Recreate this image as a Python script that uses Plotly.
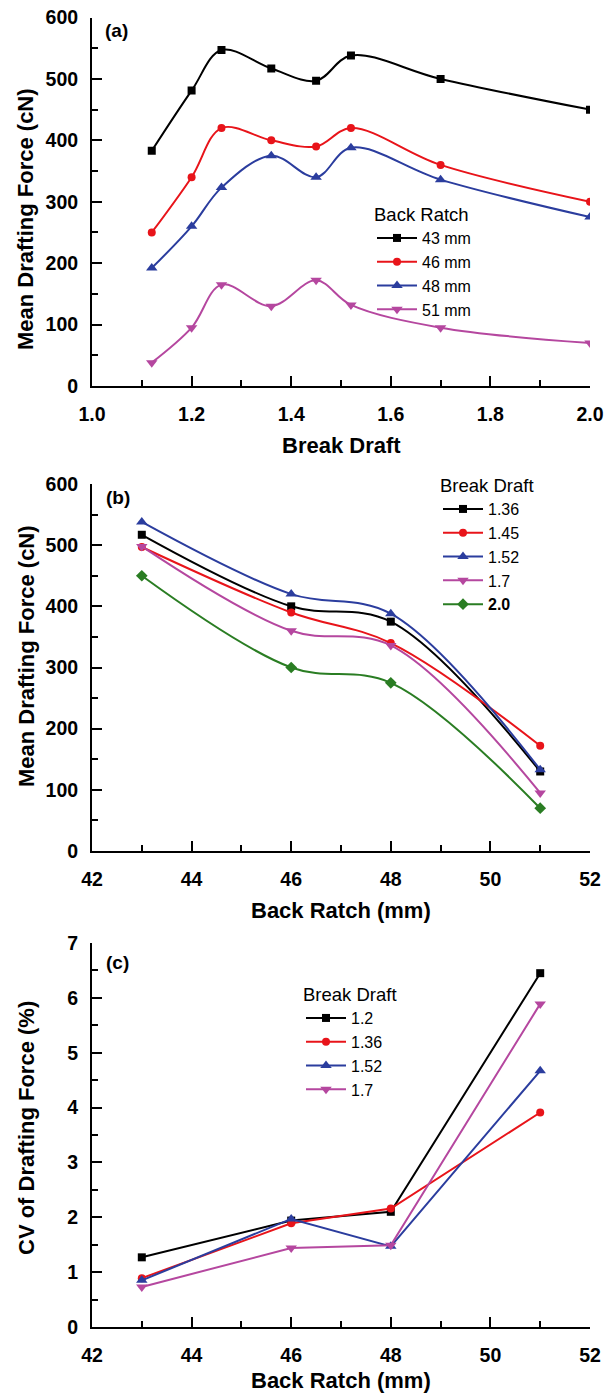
import plotly.graph_objects as go

# ---------------- data ----------------
# panel (a): mean drafting force vs break draft, one series per back ratch
break_draft_a = [1.12, 1.2, 1.26, 1.36, 1.45, 1.52, 1.7, 2.0]
force_43mm = [383, 481, 547, 517, 497, 538, 500, 450]
force_46mm = [250, 340, 420, 400, 390, 420, 360, 300]
force_48mm = [192, 260, 323, 375, 340, 388, 336, 275]
force_51mm = [38, 95, 165, 130, 172, 132, 95, 70]
names_a = ["43 mm", "46 mm", "48 mm", "51 mm"]

# panel (b): mean drafting force vs back ratch, one series per break draft
back_ratch = [43, 46, 48, 51]
force_bd136 = [517, 400, 375, 130]
force_bd145 = [497, 390, 340, 172]
force_bd152 = [538, 420, 388, 133]
force_bd170 = [498, 360, 336, 95]
force_bd200 = [450, 300, 275, 70]
names_b = ["1.36", "1.45", "1.52", "1.7", "<b>2.0</b>"]

# panel (c): CV of drafting force vs back ratch
cv_bd12 = [1.27, 1.94, 2.10, 6.45]
cv_bd136 = [0.89, 1.89, 2.16, 3.91]
cv_bd152 = [0.85, 1.97, 1.47, 4.67]
cv_bd170 = [0.73, 1.44, 1.49, 5.89]
names_c = ["1.2", "1.36", "1.52", "1.7"]

# ---------------- style ----------------
W, H = 608, 1393
FONT = "Liberation Sans, Arial, sans-serif"
BLACK, RED, BLUE, MAG, GREEN = "#000000", "#e8141a", "#2b3d9e", "#b5479f", "#2a7d23"
colors_a = [BLACK, RED, BLUE, MAG]
symbols_a = ["square", "circle", "triangle-up", "triangle-down"]
sizes_a = [8, 8, 10, 10]
colors_b = [BLACK, RED, BLUE, MAG, GREEN]
symbols_b = ["square", "circle", "triangle-up", "triangle-down", "diamond"]
sizes_b = [8, 8, 10, 10, 9]


def px_x(p):
    return p / W


def px_y(p):
    return 1 - p / H


fig = go.Figure()

series_a = [force_43mm, force_46mm, force_48mm, force_51mm]
for name, ys, c, s, sz in zip(names_a, series_a, colors_a, symbols_a, sizes_a):
    fig.add_trace(go.Scatter(
        x=break_draft_a, y=ys, name=name, mode="lines+markers",
        line=dict(color=c, width=2, shape="spline", smoothing=1.0),
        marker=dict(symbol=s, size=sz, color=c),
        xaxis="x", yaxis="y", legend="legend"))

series_b = [force_bd136, force_bd145, force_bd152, force_bd170, force_bd200]
for name, ys, c, s, sz in zip(names_b, series_b, colors_b, symbols_b, sizes_b):
    fig.add_trace(go.Scatter(
        x=back_ratch, y=ys, name=name, mode="lines+markers",
        line=dict(color=c, width=2, shape="spline", smoothing=1.0),
        marker=dict(symbol=s, size=sz, color=c),
        xaxis="x2", yaxis="y2", legend="legend2"))

series_c = [cv_bd12, cv_bd136, cv_bd152, cv_bd170]
for name, ys, c, s, sz in zip(names_c, series_c, colors_a, symbols_a, sizes_a):
    fig.add_trace(go.Scatter(
        x=back_ratch, y=ys, name=name, mode="lines+markers",
        line=dict(color=c, width=2),
        marker=dict(symbol=s, size=sz, color=c),
        xaxis="x3", yaxis="y3", legend="legend3"))

tickfont = dict(family=FONT, size=19.5, color="black", weight="bold")
x_dom = [px_x(92), px_x(590)]


def xax(rng, dtick, anchor, fmt):
    return dict(domain=x_dom, range=rng, anchor=anchor, showline=True,
                linecolor="black", linewidth=2, mirror=False, showgrid=False,
                zeroline=False, ticks="inside", ticklen=10, tickwidth=2,
                tickcolor="black", dtick=dtick, tick0=rng[0], tickformat=fmt,
                minor=dict(ticks="inside", ticklen=6, tickwidth=2,
                           tickcolor="black", dtick=dtick / 2, showgrid=False),
                tickfont=tickfont, ticklabelstandoff=10, automargin=False)


def yax(rng, dtick, dom, anchor):
    return dict(domain=dom, range=rng, anchor=anchor, showline=True,
                linecolor="black", linewidth=2, mirror=False, showgrid=False,
                zeroline=False, ticks="inside", ticklen=10, tickwidth=2,
                tickcolor="black", dtick=dtick, tick0=0,
                minor=dict(ticks="inside", ticklen=6, tickwidth=2,
                           tickcolor="black", dtick=dtick / 2, showgrid=False),
                tickfont=tickfont, ticklabelstandoff=8, automargin=False)


legfont = dict(family=FONT, size=16, color="black")
legtitle = dict(family=FONT, size=18.5, color="black")


def leg(x, y, title):
    return dict(x=x, y=y, xanchor="left", yanchor="top",
                bgcolor="rgba(0,0,0,0)", borderwidth=0, font=legfont,
                title=dict(text=title, font=legtitle), tracegroupgap=0,
                itemwidth=40)


fig.update_layout(
    width=W, height=H, margin=dict(l=0, r=0, t=0, b=0, autoexpand=False),
    paper_bgcolor="white", plot_bgcolor="white",
    font=dict(family=FONT, color="black"),
    xaxis=xax([1.0, 2.0], 0.2, "y", ".1f"),
    yaxis=yax([0, 600], 100, [px_y(386), px_y(17.5)], "x"),
    xaxis2=xax([42, 52], 2, "y2", "d"),
    yaxis2=yax([0, 600], 100, [px_y(851), px_y(484)], "x2"),
    xaxis3=xax([42, 52], 2, "y3", "d"),
    yaxis3=yax([0, 7], 1, [px_y(1327), px_y(943)], "x3"),
    legend=leg(px_x(372), px_y(197), "Back Ratch"),
    legend2=leg(px_x(438), px_y(468), "Break Draft"),
    legend3=leg(px_x(301), px_y(977), "Break Draft"),
    showlegend=True,
)

titlefont = dict(family=FONT, size=22, color="black", weight="bold")
labelfont = dict(family=FONT, size=19, color="black", weight="bold")
annots = [
    ("Break Draft", 341, 445, 0, titlefont),
    ("Back Ratch (mm)", 341, 910, 0, titlefont),
    ("Back Ratch (mm)", 341, 1380, 0, titlefont),
    ("Mean Drafting Force (cN)", 26, 219, -90, titlefont),
    ("Mean Drafting Force (cN)", 26, 656, -90, titlefont),
    ("CV of Drafting Force (%)", 26, 1128, -90, titlefont),
    ("(a)", 116, 31, 0, labelfont),
    ("(b)", 118, 497, 0, labelfont),
    ("(c)", 117, 962, 0, labelfont),
]
for text, x, y, ang, f in annots:
    fig.add_annotation(text=text, x=px_x(x), y=px_y(y), xref="paper",
                       yref="paper", xanchor="center", yanchor="middle",
                       showarrow=False, textangle=ang, font=f)

fig.write_html(
    "out.html",
    config={"displayModeBar": False},
    post_script="document.body.style.margin='0px';"
                "document.body.style.padding='0px';",
)
